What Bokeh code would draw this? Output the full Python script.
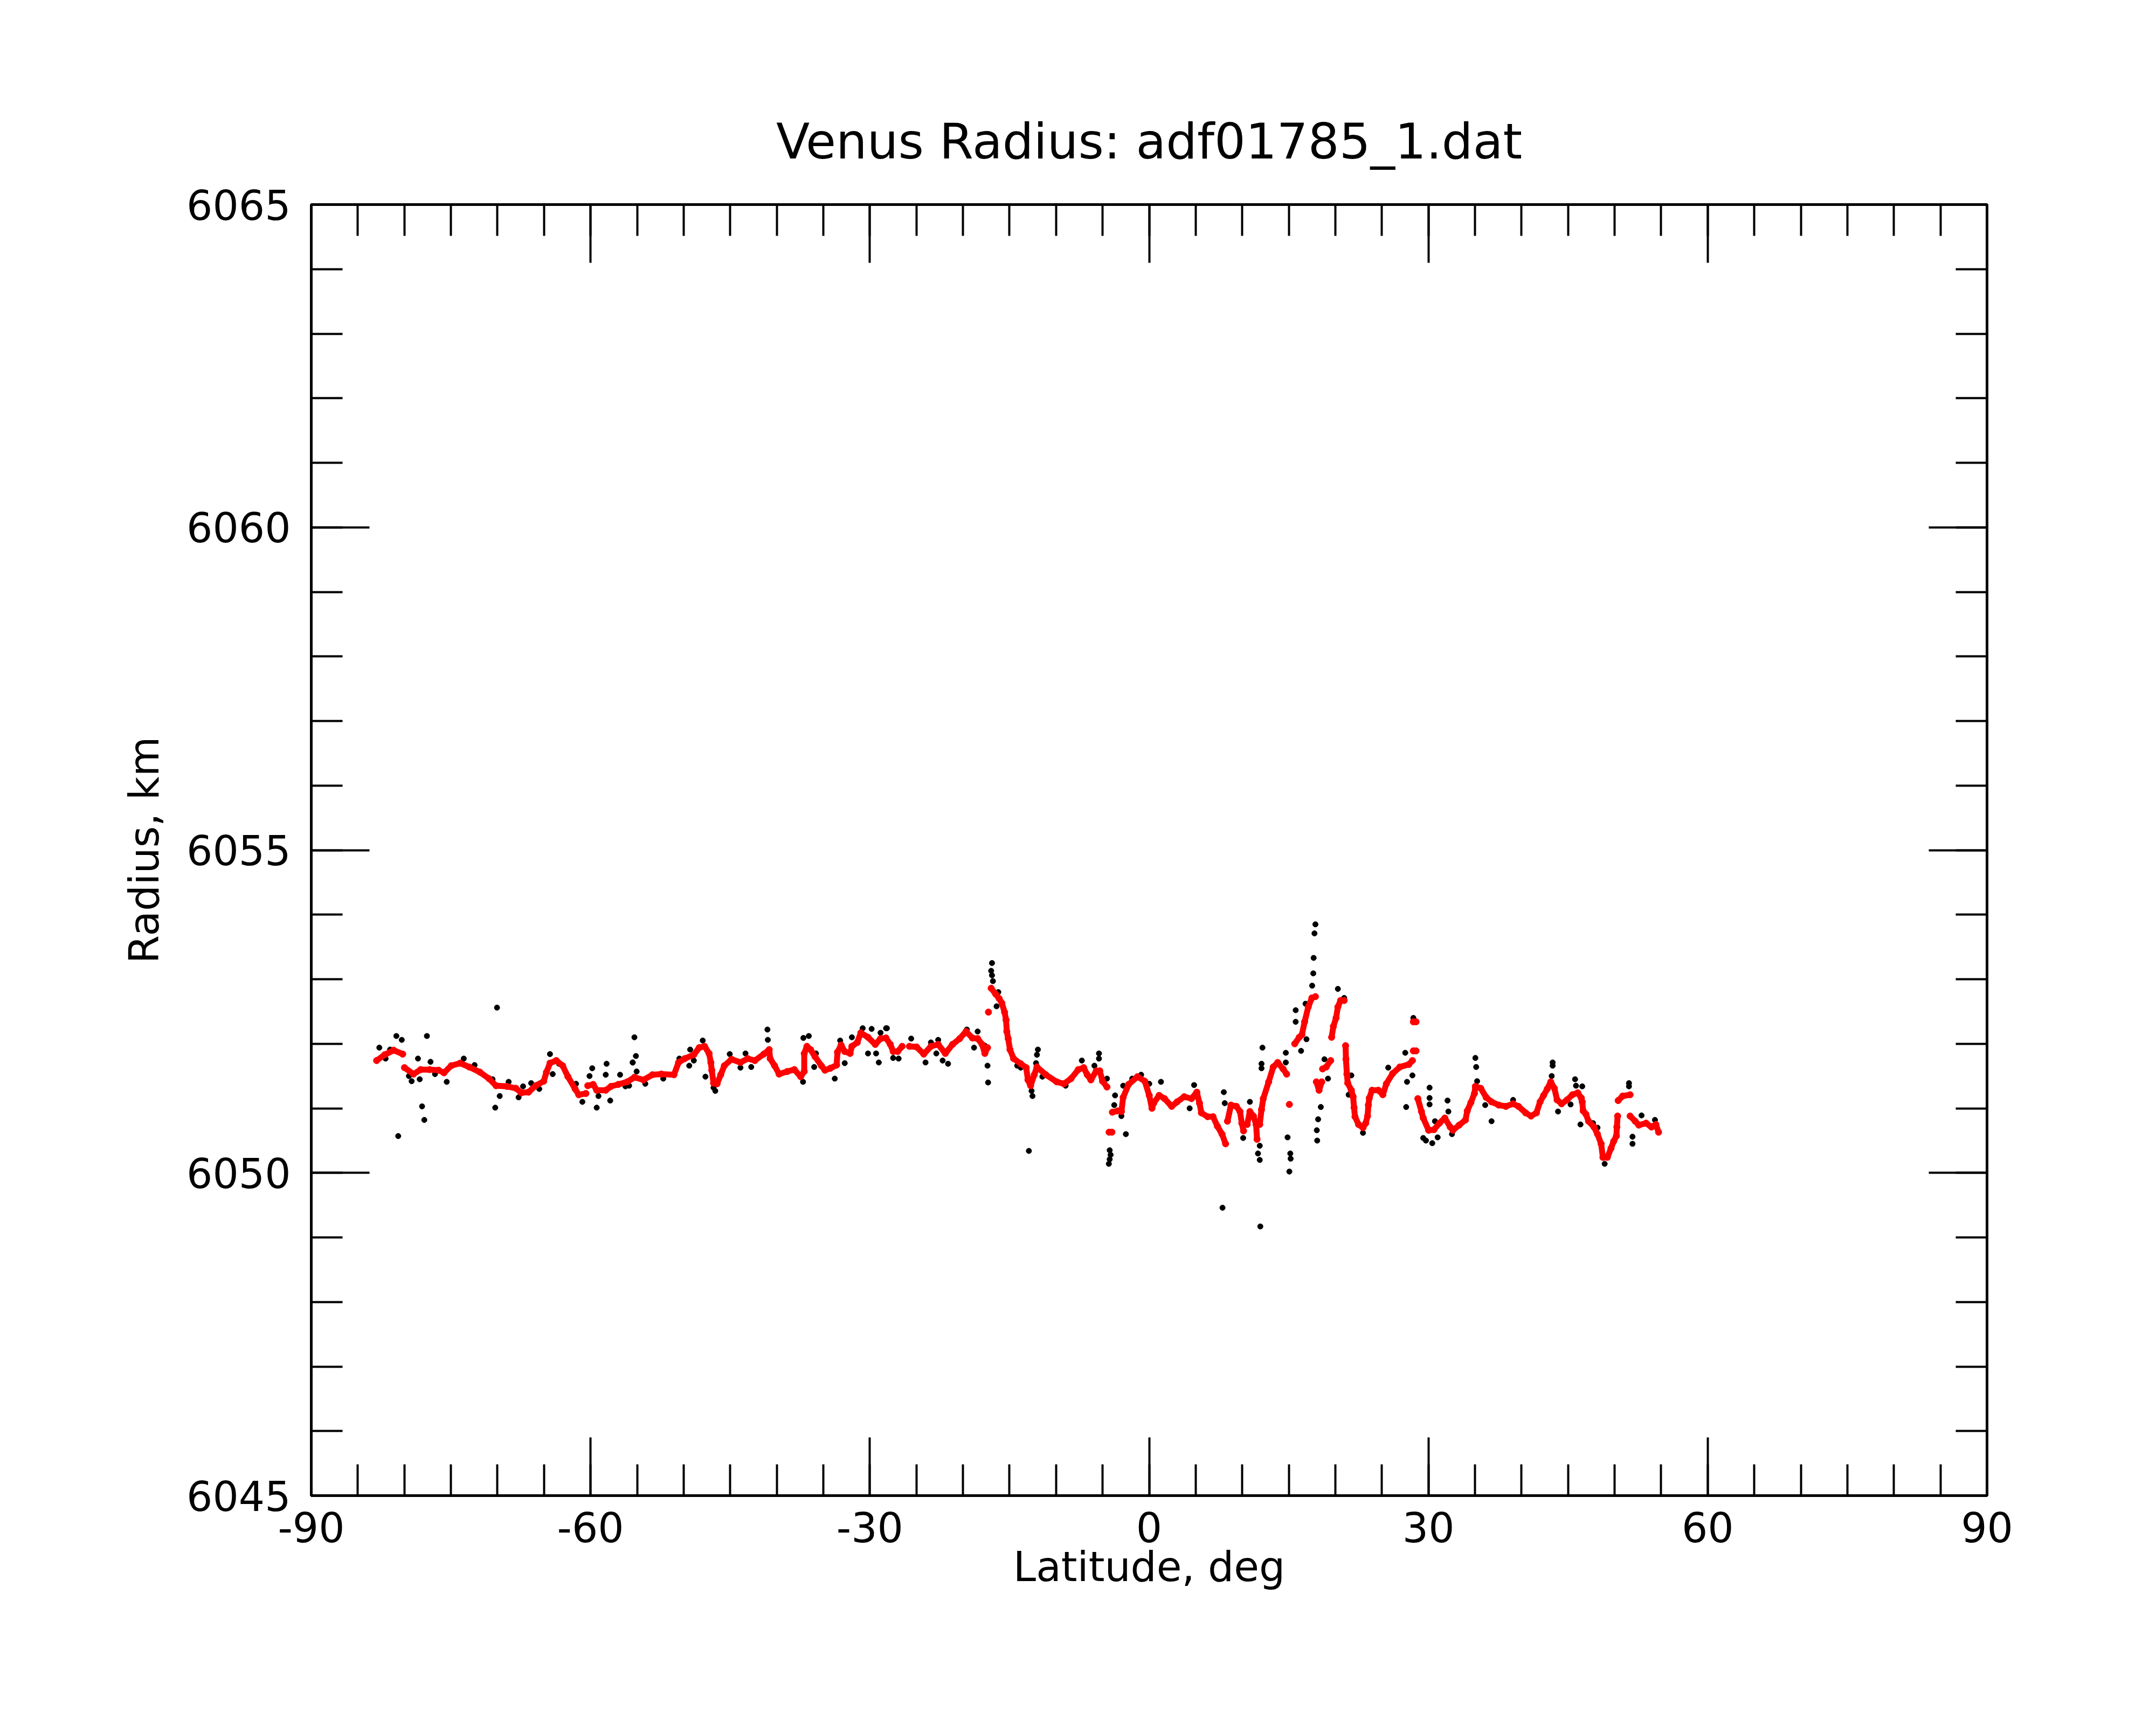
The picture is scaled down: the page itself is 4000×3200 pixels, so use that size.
from bokeh.plotting import figure
from bokeh.models import LinearAxis, FixedTicker, Range1d
from bokeh.embed import file_html
from bokeh.resources import INLINE

nan = float("nan")

# Filtered (red) profile: latitude (deg) and radius (km); NaN marks a gap
red_lat = [
    -82.98, -82.11, -81.15, -80.18, nan,
    -79.99, -79.02, -78.25, -77.29, -76.32, -75.74, -74.97, -74.01, -73.04, -71.88,
    -70.92, -70.15, -68.99, -68.02, -67.44, -66.67, -65.90, -65.03, -64.74, -64.36,
    -63.68, -63.00, -62.43, -61.66, -61.27, -60.50, nan,
    -60.30, -59.72, -59.34, -58.37, -57.80, -57.02, -56.06, -55.29, -54.32, -53.35,
    -52.39, -51.04, -50.55, -49.88, -48.91, -48.33, -47.75, -47.27, -47.08, -46.98,
    -46.79, -46.41, -46.02, -45.63, -44.86, -43.90, -43.12, -42.35, -41.39, -40.81,
    -40.71, -40.23, -39.75, -38.88, -38.11, -37.43, -37.05, -37.05, -36.76, -36.37,
    -35.89, -35.21, -34.82, -34.25, -33.57, -33.48, -33.09, -32.70, -32.12, -31.93,
    -31.35, -30.97, -30.20, -29.42, -28.85, -28.27, -27.80, -27.49, -27.01, -26.53, nan,
    -25.75, -24.98, -24.21, -23.44, -22.66, -21.89, -21.12, -20.35, -19.67, -18.99,
    -18.42, -17.94, -17.65, -17.36, nan,
    -17.26, nan,
    -16.97, -16.49, -16.11, -15.82, -15.53, -15.37, -15.29, -15.14, -14.95, -14.56,
    -13.79, -13.21, -13.02, -12.73, -12.34, -12.05, -11.09, -9.93, -9.16, -8.39,
    -7.61, -7.03, -6.65, -6.26, -5.68, -5.30, -5.01, -4.53, nan,
    -4.30, -4.00, nan,
    -3.95, -3.37, -2.98, -2.79, -2.21, -1.25, -0.47, 0.01, 0.30, 0.49, 1.07, 1.65,
    2.42, 3.00, 3.77, 4.55, 5.12, 5.41, 5.61, 6.28, 6.86, 7.34, 7.83, 8.21, nan,
    8.41, 8.79, 9.37, 9.76, 9.95, 10.14, nan,
    10.53, 10.82, 11.20, 11.49, 11.59, nan,
    11.88, 12.07, 12.26, 12.84, 13.33, 13.81, 14.39, 14.77, nan,
    15.06, nan,
    15.64, 16.12, 16.41, 16.70, 17.09, 17.48, 17.86, nan,
    17.96, 18.25, 18.54, nan,
    18.63, 19.02, 19.50, nan,
    19.60, 19.79, 20.08, 20.27, 20.56, 20.95, nan,
    21.10, 21.14, 21.24, 21.33, 21.72, 21.91, 22.01, 22.11, 22.49, 22.97, 23.26,
    23.46, 23.55, 23.65, 23.94, 24.62, 25.10, 25.48, 26.16, 26.93, 27.90, 28.28, nan,
    28.38, 28.67, nan,
    28.38, 28.67, nan,
    28.86, 29.25, 29.44, 30.02, 30.60, 31.18, 31.76, 32.34, 32.63, 33.30, 33.98,
    34.17, 34.56, 34.94, 35.04, 35.62, 36.20, 36.78, 37.55, 38.32, 39.09, 39.67,
    40.44, 41.02, 41.60, 41.99, 42.37, 42.76, 43.14, 43.53, 43.82, 44.30, 44.88,
    45.46, 46.04, 46.42, 46.52, 46.62, 46.91, 47.20, 47.78, 48.16, 48.55, 48.74,
    49.22, 49.61, 49.90, 50.19, 50.24, 50.32, nan,
    50.38, 50.86, 51.66, nan,
    51.66, 52.21, 52.60, 53.37, 53.95, 54.43, 54.72,
]
red_rad = [
    6051.74, 6051.83, 6051.90, 6051.84, nan,
    6051.63, 6051.53, 6051.60, 6051.60, 6051.59, 6051.55, 6051.66, 6051.70, 6051.64, 6051.56,
    6051.46, 6051.35, 6051.34, 6051.31, 6051.24, 6051.25, 6051.35, 6051.42, 6051.56, 6051.70,
    6051.74, 6051.66, 6051.49, 6051.30, 6051.21, 6051.23, nan,
    6051.35, 6051.37, 6051.28, 6051.28, 6051.34, 6051.37, 6051.41, 6051.48, 6051.44, 6051.52,
    6051.53, 6051.52, 6051.71, 6051.77, 6051.83, 6051.94, 6051.96, 6051.85, 6051.71, 6051.59,
    6051.39, 6051.38, 6051.52, 6051.66, 6051.76, 6051.71, 6051.77, 6051.74, 6051.84, 6051.91,
    6051.77, 6051.66, 6051.53, 6051.57, 6051.60, 6051.49, 6051.57, 6051.85, 6051.96, 6051.91,
    6051.80, 6051.66, 6051.59, 6051.62, 6051.67, 6051.87, 6051.98, 6051.88, 6051.85, 6051.96,
    6052.02, 6052.17, 6052.10, 6051.99, 6052.08, 6052.09, 6051.99, 6051.88, 6051.88, 6051.96, nan,
    6051.96, 6051.95, 6051.84, 6051.96, 6051.99, 6051.85, 6051.99, 6052.08, 6052.19, 6052.09,
    6052.08, 6051.99, 6051.85, 6051.94, nan,
    6052.49, nan,
    6052.86, 6052.77, 6052.70, 6052.63, 6052.49, 6052.37, 6052.19, 6052.08, 6051.91, 6051.77,
    6051.69, 6051.63, 6051.44, 6051.35, 6051.52, 6051.64, 6051.52, 6051.41, 6051.38, 6051.46,
    6051.60, 6051.63, 6051.52, 6051.44, 6051.58, 6051.58, 6051.42, 6051.33, nan,
    6050.63, 6050.63, nan,
    6050.94, 6050.96, 6050.95, 6051.17, 6051.37, 6051.49, 6051.42, 6051.20, 6051.00, 6051.08, 6051.20, 6051.15,
    6051.03, 6051.10, 6051.18, 6051.15, 6051.25, 6051.08, 6050.93, 6050.87, 6050.87, 6050.72, 6050.60, 6050.45, nan,
    6050.80, 6051.05, 6051.03, 6050.95, 6050.77, 6050.65, nan,
    6050.75, 6050.95, 6050.88, 6050.75, 6050.52, nan,
    6050.75, 6050.98, 6051.15, 6051.41, 6051.64, 6051.71, 6051.61, 6051.53, nan,
    6051.06, nan,
    6052.00, 6052.10, 6052.14, 6052.34, 6052.57, 6052.71, 6052.73, nan,
    6051.41, 6051.28, 6051.41, nan,
    6051.61, 6051.64, 6051.74, nan,
    6052.10, 6052.27, 6052.40, 6052.57, 6052.67, 6052.67, nan,
    6051.97, 6051.76, 6051.53, 6051.39, 6051.28, 6051.18, 6051.01, 6050.87, 6050.75, 6050.70, 6050.77,
    6050.88, 6051.05, 6051.16, 6051.28, 6051.28, 6051.21, 6051.38, 6051.54, 6051.64, 6051.68, 6051.74, nan,
    6052.34, 6052.34, nan,
    6051.89, 6051.89, nan,
    6051.15, 6050.95, 6050.85, 6050.66, 6050.67, 6050.77, 6050.85, 6050.71, 6050.66, 6050.74, 6050.82,
    6050.96, 6051.09, 6051.23, 6051.34, 6051.31, 6051.17, 6051.10, 6051.05, 6051.03, 6051.07, 6051.03,
    6050.93, 6050.88, 6050.93, 6051.10, 6051.20, 6051.30, 6051.41, 6051.31, 6051.13, 6051.07, 6051.13,
    6051.21, 6051.24, 6051.16, 6051.10, 6050.96, 6050.91, 6050.80, 6050.71, 6050.60, 6050.45, 6050.24,
    6050.24, 6050.38, 6050.49, 6050.57, 6050.71, 6050.88, nan,
    6051.12, 6051.19, 6051.21, nan,
    6050.88, 6050.80, 6050.74, 6050.77, 6050.71, 6050.75, 6050.63,
]

# Raw (black) measurements that stand apart from the filtered profile
black_lat = [
    -70.05, -80.86, -80.28, -77.58, -82.69, -78.54, -77.19, -78.10, -77.86, -80.66,
    -70.24, -67.25, -58.28, -59.82, -60.11, -59.34, -57.89, -60.88, -55.29, -55.48,
    -56.83, -58.37, -64.36, -69.76, -75.45, -79.22, -79.51, -78.35, -76.71, -64.07,
    -67.73, -56.25, -81.53, -82.02, -73.62, -72.46, -70.53, -68.80, -66.38, -65.51,
    -63.39, -61.56, -59.15,
    -55.13, -55.47, -55.05, -55.86, -49.40, -47.66, -46.60, -41.00, -40.96, -47.95,
    -45.05, -43.36, -43.90, -42.74, -37.14, -36.56, -37.18, -35.98, -35.79, -33.77,
    -33.19, -31.93, -30.77, -29.81, -28.17, -29.04, -30.20, -32.70, -29.33, -28.85,
    -27.50, -49.30, -50.46, -54.12, -52.19, -48.91, -46.79,
    -16.88, -16.97, -16.88, -16.78, -16.20, -16.39, -17.36, -17.30, -28.26, -26.91,
    -24.02, -22.18, -21.60, -18.42, -18.81, -22.86, -11.95, -12.05, -12.15, -12.53,
    -12.63, -12.92, -13.79, -7.23, -5.39, -5.39, -4.53, -3.66, -3.75, -2.98,
    -2.50, -4.24, -4.14, -4.24, -4.33, -2.79, -1.82, -0.86, 0.01, -25.56,
    -23.44, -22.66, -19.58, -17.65, -14.17, -11.47, -8.97, -5.88, -1.05,
    17.86, 17.76, 17.67, 17.63, 17.51, 16.80, 15.74, 15.74, 16.90, 16.32,
    14.68, 14.68, 12.17, 12.07, 12.07, 18.44, 18.15, 18.01, 18.05, 14.87,
    15.16, 15.20, 15.06, 11.88, 11.69, 11.88, 11.94, 7.88, 8.02, 8.12,
    10.10, 10.82, 1.27, 4.35, 4.83, 20.27, 20.95, 19.21, 18.83, 21.72,
    21.43, 22.97, 25.68, 27.51, 28.38, 27.61, 27.70, 28.28, 29.44,
    35.04, 35.13, 35.23, 43.34, 43.34, 43.24, 45.75, 45.85, 46.52, 51.54,
    51.54, 30.12, 30.12, 30.12, 32.05, 32.14, 30.70, 29.73, 30.41, 30.99,
    36.78, 36.10, 43.92, 45.27, 46.33, 48.93, 51.92, 51.92, 52.89, 54.33,
    48.16, 47.68, 32.53, 39.09,
]
black_rad = [
    6052.56, 6052.12, 6052.06, 6052.12, 6051.94, 6051.77, 6051.72, 6051.03, 6050.82, 6050.57,
    6051.01, 6051.34, 6051.69, 6051.62, 6051.50, 6051.01, 6051.12, 6051.10, 6052.10, 6051.71,
    6051.52, 6051.52, 6051.84, 6051.19, 6051.41, 6051.42, 6051.50, 6051.45, 6051.53, 6051.53,
    6051.17, 6051.34, 6051.91, 6051.77, 6051.77, 6051.67, 6051.45, 6051.41, 6051.39, 6051.30,
    6051.69, 6051.38, 6051.19,
    6051.81, 6051.71, 6051.57, 6051.35, 6051.66, 6051.49, 6051.27, 6052.22, 6052.06, 6052.05,
    6051.84, 6051.85, 6051.63, 6051.64, 6052.09, 6052.12, 6051.41, 6051.64, 6051.85, 6051.46,
    6052.05, 6052.10, 6052.24, 6052.23, 6052.24, 6051.71, 6051.85, 6051.70, 6051.85, 6052.17,
    6051.78, 6051.91, 6051.77, 6051.38, 6051.46, 6051.74, 6051.32,
    6053.25, 6053.13, 6053.06, 6052.97, 6052.80, 6052.58, 6051.66, 6051.40, 6052.24, 6051.77,
    6051.71, 6051.74, 6051.69, 6052.19, 6051.94, 6051.85, 6051.91, 6051.83, 6051.70, 6051.19,
    6051.27, 6050.34, 6051.63, 6051.74, 6051.85, 6051.77, 6051.46, 6051.20, 6051.05, 6050.88,
    6050.60, 6050.35, 6050.28, 6050.21, 6050.14, 6051.35, 6051.46, 6051.52, 6051.38, 6052.08,
    6052.02, 6052.06, 6052.22, 6051.97, 6051.66, 6051.49, 6051.35, 6051.66, 6051.49,
    6053.85, 6053.71, 6053.33, 6053.09, 6052.90, 6052.62, 6052.52, 6052.34, 6052.07, 6051.89,
    6051.86, 6051.71, 6051.94, 6051.69, 6051.62, 6051.02, 6050.83, 6050.66, 6050.50, 6050.55,
    6050.30, 6050.22, 6050.02, 6050.42, 6050.30, 6050.20, 6049.17, 6049.46, 6051.25, 6051.08,
    6050.54, 6051.10, 6051.41, 6051.00, 6051.36, 6052.85, 6052.71, 6051.46, 6051.76, 6051.51,
    6051.21, 6050.62, 6051.63, 6051.86, 6052.40, 6051.02, 6051.41, 6051.51, 6050.54,
    6051.78, 6051.64, 6051.42, 6051.71, 6051.66, 6051.50, 6051.45, 6051.35, 6051.34, 6051.39,
    6051.34, 6051.32, 6051.16, 6051.06, 6051.12, 6050.95, 6050.80, 6050.50, 6050.46, 6050.55,
    6050.80, 6051.05, 6050.95, 6051.06, 6050.75, 6050.14, 6050.56, 6050.45, 6050.89, 6050.82,
    6050.70, 6050.77, 6050.60, 6051.13,
]

x_major = [-90, -60, -30, 0, 30, 60, 90]
x_minor = list(range(-90, 91, 5))
x_labels = ["-90", "-60", "-30", "0", "30", "60", "90"]
y_major = [6045, 6050, 6055, 6060, 6065]
y_minor = list(range(6045, 6066))
y_labels = ["6045", "6050", "6055", "6060", "6065"]

title_text = "Venus Radius: adf01785_1.dat"
x_title = "Latitude, deg"
y_title = "Radius, km"

FONT = "DejaVu Sans"

p = figure(width=3984, height=3184, output_backend="svg", toolbar_location=None,
           x_range=Range1d(-90, 90), y_range=Range1d(6045, 6065),
           x_axis_type=None, y_axis_type=None,
           min_border_left=577, min_border_right=298,
           min_border_top=379, min_border_bottom=410)
p.outline_line_color = "black"
p.outline_line_width = 5
p.background_fill_color = "white"
p.border_fill_color = "white"

p.title.text = title_text
p.title.align = "center"
p.title.text_font = FONT
p.title.text_font_size = "91px"
p.title.text_font_style = "normal"
p.title.text_color = "black"
p.title.standoff = 129


def make_axis(major, minor, labels, standoff):
    ax = LinearAxis(ticker=FixedTicker(ticks=major, minor_ticks=minor))
    ax.axis_line_color = None
    ax.major_tick_in = 108
    ax.major_tick_out = 0
    ax.minor_tick_in = 58
    ax.minor_tick_out = 0
    ax.major_tick_line_color = "black"
    ax.minor_tick_line_color = "black"
    ax.major_tick_line_width = 4
    ax.minor_tick_line_width = 4
    ax.major_label_text_font = FONT
    ax.major_label_text_font_size = "76px"
    ax.major_label_text_color = "black"
    ax.major_label_standoff = standoff
    ax.major_label_overrides = {t: (lab if labels else "") for t, lab in zip(major, labels or major)}
    ax.axis_label_text_font = FONT
    ax.axis_label_text_font_size = "76px"
    ax.axis_label_text_font_style = "normal"
    ax.axis_label_text_color = "black"
    return ax


xb = make_axis(x_major, x_minor, x_labels, 30)
xb.axis_label = x_title
xb.axis_label_standoff = -2
yl = make_axis(y_major, y_minor, y_labels, 38)
yl.axis_label = y_title
yl.axis_label_standoff = 31

p.add_layout(xb, "below")
p.add_layout(make_axis(x_major, x_minor, None, 0), "above")
p.add_layout(yl, "left")
p.add_layout(make_axis(y_major, y_minor, None, 0), "right")

p.scatter(black_lat, black_rad, size=10, color="black")
p.line(red_lat, red_rad, line_width=11, color="#ff0000", line_cap="round", line_join="round")
p.scatter([v for v in red_lat if v == v], [v for v in red_rad if v == v], size=12, color="#ff0000")

open("out.html", "w").write(file_html(p, INLINE))
